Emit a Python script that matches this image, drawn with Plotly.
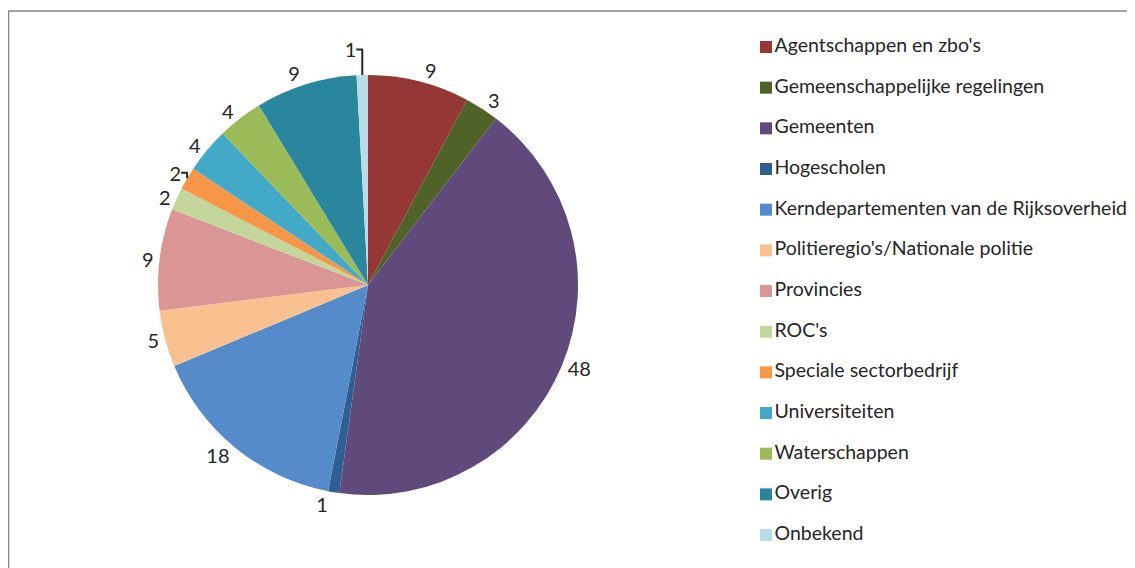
import plotly.graph_objects as go

categories = [
    "Agentschappen en zbo's",
    "Gemeenschappelijke regelingen",
    "Gemeenten",
    "Hogescholen",
    "Kerndepartementen van de Rijksoverheid",
    "Politieregio's/Nationale politie",
    "Provincies",
    "ROC's",
    "Speciale sectorbedrijf",
    "Universiteiten",
    "Waterschappen",
    "Overig",
    "Onbekend",
]
values = [9, 3, 48, 1, 18, 5, 9, 2, 2, 4, 4, 9, 1]
colors = [
    "#953735", "#4F6228", "#604A7B", "#2F5E93", "#568BCB", "#F9C090",
    "#D99694", "#C3D69B", "#F79646", "#42AAC7", "#9BBB59", "#2A869D", "#B7DEE8",
]

W, H = 1135, 568
OFF = 8  # page body margin offset
cx, cy, r = 368 - OFF, 285 - OFF, 210

fig = go.Figure()
fig.add_trace(go.Pie(
    labels=categories,
    values=values,
    sort=False,
    direction="clockwise",
    rotation=0,
    marker=dict(colors=colors, line=dict(width=0)),
    textinfo="value",
    textposition="outside",
    textfont=dict(family="Lato", size=20, color="#262626"),
    showlegend=False,
    domain=dict(x=[(cx - r) / W, (cx + r) / W], y=[(H - cy - r) / H, (H - cy + r) / H]),
    hoverinfo="label+value",
))

# custom legend
row0, gap = 47 - OFF, 40.67
idx = list(range(len(categories)))
fig.add_trace(go.Scatter(
    x=[766 - OFF] * len(categories),
    y=idx,
    mode="markers+text",
    marker=dict(symbol="square", size=12, color=colors, line=dict(width=0)),
    text=categories,
    textposition="middle right",
    textfont=dict(family="Lato", size=19.5, color="#262626"),
    showlegend=False,
    hoverinfo="skip",
    xaxis="x", yaxis="y",
))

fig.update_layout(
    width=W, height=H,
    margin=dict(l=0, r=0, t=0, b=0),
    paper_bgcolor="white",
    plot_bgcolor="rgba(0,0,0,0)",
    xaxis=dict(range=[0, W], domain=[0, 1], visible=False, fixedrange=True),
    yaxis=dict(range=[(H - row0) / gap, -row0 / gap], domain=[0, 1], visible=False, fixedrange=True),
    shapes=[dict(
        type="rect", xref="paper", yref="paper",
        x0=(8.5 - OFF) / W, y0=1 - (11 - OFF) / H, x1=1.02, y1=-0.02,
        line=dict(color="#868686", width=1.5),
        fillcolor="rgba(0,0,0,0)", layer="below",
    )],
)

fig.write_html("out.html")
